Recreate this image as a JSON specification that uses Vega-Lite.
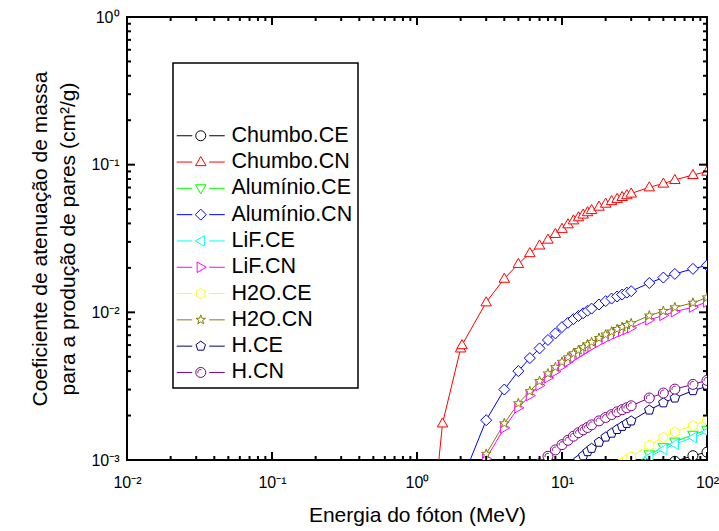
{
"$schema":"https://vega.github.io/schema/vega-lite/v6.json",
"width":580,"height":443,
"autosize":{"type":"none"},
"padding":{"left":127,"top":17,"right":12,"bottom":71},
"background":"white",
"config":{"view":{"stroke":"black","strokeWidth":2},"font":"Liberation Sans","axis":{"grid":false,"labelColor":"black","titleColor":"black","tickColor":"black"},"legend":{"strokeWidth":1.5}},
"data":{"values":[
{"s":"Chumbo.CE","E":30,"v":0.00072},{"s":"Chumbo.CE","E":40,"v":0.00082},{"s":"Chumbo.CE","E":50,"v":0.0009},{"s":"Chumbo.CE","E":60,"v":0.00098},{"s":"Chumbo.CE","E":80,"v":0.00107},{"s":"Chumbo.CE","E":100,"v":0.00113},
{"s":"Chumbo.CN","E":1.25,"v":0.0003},{"s":"Chumbo.CN","E":1.5,"v":0.00177},{"s":"Chumbo.CN","E":2,"v":0.0057},{"s":"Chumbo.CN","E":2.044,"v":0.006},{"s":"Chumbo.CN","E":3,"v":0.0117},{"s":"Chumbo.CN","E":4,"v":0.0169},{"s":"Chumbo.CN","E":5,"v":0.0213},{"s":"Chumbo.CN","E":6,"v":0.0252},{"s":"Chumbo.CN","E":7,"v":0.0284},{"s":"Chumbo.CN","E":8,"v":0.0311},{"s":"Chumbo.CN","E":9,"v":0.034},{"s":"Chumbo.CN","E":10,"v":0.0368},{"s":"Chumbo.CN","E":11,"v":0.0395},{"s":"Chumbo.CN","E":12,"v":0.042},{"s":"Chumbo.CN","E":13,"v":0.0441},{"s":"Chumbo.CN","E":14,"v":0.046},{"s":"Chumbo.CN","E":15,"v":0.0477},{"s":"Chumbo.CN","E":16,"v":0.0493},{"s":"Chumbo.CN","E":18,"v":0.052},{"s":"Chumbo.CN","E":20,"v":0.0545},{"s":"Chumbo.CN","E":22,"v":0.0567},{"s":"Chumbo.CN","E":24,"v":0.0587},{"s":"Chumbo.CN","E":26,"v":0.0605},{"s":"Chumbo.CN","E":28,"v":0.0622},{"s":"Chumbo.CN","E":30,"v":0.0638},{"s":"Chumbo.CN","E":40,"v":0.0703},{"s":"Chumbo.CN","E":50,"v":0.0745},{"s":"Chumbo.CN","E":60,"v":0.0788},{"s":"Chumbo.CN","E":80,"v":0.0852},{"s":"Chumbo.CN","E":100,"v":0.0897},
{"s":"Alumínio.CE","E":26,"v":0.00081},{"s":"Alumínio.CE","E":28,"v":0.00086},{"s":"Alumínio.CE","E":30,"v":0.0009},{"s":"Alumínio.CE","E":40,"v":0.00109},{"s":"Alumínio.CE","E":50,"v":0.00122},{"s":"Alumínio.CE","E":60,"v":0.00133},{"s":"Alumínio.CE","E":80,"v":0.00148},{"s":"Alumínio.CE","E":100,"v":0.0016},
{"s":"Alumínio.CN","E":2,"v":0.00068},{"s":"Alumínio.CN","E":2.044,"v":0.00073},{"s":"Alumínio.CN","E":3,"v":0.00186},{"s":"Alumínio.CN","E":4,"v":0.003},{"s":"Alumínio.CN","E":5,"v":0.004},{"s":"Alumínio.CN","E":6,"v":0.0049},{"s":"Alumínio.CN","E":7,"v":0.0057},{"s":"Alumínio.CN","E":8,"v":0.0065},{"s":"Alumínio.CN","E":9,"v":0.0072},{"s":"Alumínio.CN","E":10,"v":0.00795},{"s":"Alumínio.CN","E":11,"v":0.0085},{"s":"Alumínio.CN","E":12,"v":0.009},{"s":"Alumínio.CN","E":13,"v":0.00945},{"s":"Alumínio.CN","E":14,"v":0.00985},{"s":"Alumínio.CN","E":15,"v":0.01025},{"s":"Alumínio.CN","E":16,"v":0.0106},{"s":"Alumínio.CN","E":18,"v":0.0113},{"s":"Alumínio.CN","E":20,"v":0.0119},{"s":"Alumínio.CN","E":22,"v":0.0124},{"s":"Alumínio.CN","E":24,"v":0.0128},{"s":"Alumínio.CN","E":26,"v":0.0132},{"s":"Alumínio.CN","E":28,"v":0.0136},{"s":"Alumínio.CN","E":30,"v":0.0139},{"s":"Alumínio.CN","E":40,"v":0.0158},{"s":"Alumínio.CN","E":50,"v":0.0172},{"s":"Alumínio.CN","E":60,"v":0.0182},{"s":"Alumínio.CN","E":80,"v":0.0197},{"s":"Alumínio.CN","E":100,"v":0.0208},
{"s":"LiF.CE","E":26,"v":0.00079},{"s":"LiF.CE","E":28,"v":0.00083},{"s":"LiF.CE","E":30,"v":0.00087},{"s":"LiF.CE","E":40,"v":0.00105},{"s":"LiF.CE","E":50,"v":0.00118},{"s":"LiF.CE","E":60,"v":0.00128},{"s":"LiF.CE","E":80,"v":0.00142},{"s":"LiF.CE","E":100,"v":0.00155},
{"s":"LiF.CN","E":2.044,"v":0.00019},{"s":"LiF.CN","E":3,"v":0.00102},{"s":"LiF.CN","E":4,"v":0.00165},{"s":"LiF.CN","E":5,"v":0.00226},{"s":"LiF.CN","E":6,"v":0.00273},{"s":"LiF.CN","E":7,"v":0.0032},{"s":"LiF.CN","E":8,"v":0.0036},{"s":"LiF.CN","E":9,"v":0.00397},{"s":"LiF.CN","E":10,"v":0.00432},{"s":"LiF.CN","E":11,"v":0.00463},{"s":"LiF.CN","E":12,"v":0.00493},{"s":"LiF.CN","E":13,"v":0.00519},{"s":"LiF.CN","E":14,"v":0.00542},{"s":"LiF.CN","E":15,"v":0.00566},{"s":"LiF.CN","E":16,"v":0.00587},{"s":"LiF.CN","E":18,"v":0.00626},{"s":"LiF.CN","E":20,"v":0.00661},{"s":"LiF.CN","E":22,"v":0.00692},{"s":"LiF.CN","E":24,"v":0.0072},{"s":"LiF.CN","E":26,"v":0.00743},{"s":"LiF.CN","E":28,"v":0.00767},{"s":"LiF.CN","E":30,"v":0.00787},{"s":"LiF.CN","E":40,"v":0.00888},{"s":"LiF.CN","E":50,"v":0.00954},{"s":"LiF.CN","E":60,"v":0.0101},{"s":"LiF.CN","E":80,"v":0.01085},{"s":"LiF.CN","E":100,"v":0.01175},
{"s":"H2O.CE","E":20,"v":0.0008},{"s":"H2O.CE","E":22,"v":0.00086},{"s":"H2O.CE","E":24,"v":0.00091},{"s":"H2O.CE","E":26,"v":0.00096},{"s":"H2O.CE","E":28,"v":0.00101},{"s":"H2O.CE","E":30,"v":0.00105},{"s":"H2O.CE","E":40,"v":0.00126},{"s":"H2O.CE","E":50,"v":0.00142},{"s":"H2O.CE","E":60,"v":0.00155},{"s":"H2O.CE","E":80,"v":0.00171},{"s":"H2O.CE","E":100,"v":0.00187},
{"s":"H2O.CN","E":2.044,"v":0.0002},{"s":"H2O.CN","E":3,"v":0.0011},{"s":"H2O.CN","E":4,"v":0.00177},{"s":"H2O.CN","E":5,"v":0.00242},{"s":"H2O.CN","E":6,"v":0.00292},{"s":"H2O.CN","E":7,"v":0.00342},{"s":"H2O.CN","E":8,"v":0.00385},{"s":"H2O.CN","E":9,"v":0.00425},{"s":"H2O.CN","E":10,"v":0.00462},{"s":"H2O.CN","E":11,"v":0.00495},{"s":"H2O.CN","E":12,"v":0.00527},{"s":"H2O.CN","E":13,"v":0.00555},{"s":"H2O.CN","E":14,"v":0.0058},{"s":"H2O.CN","E":15,"v":0.00605},{"s":"H2O.CN","E":16,"v":0.00628},{"s":"H2O.CN","E":18,"v":0.0067},{"s":"H2O.CN","E":20,"v":0.00707},{"s":"H2O.CN","E":22,"v":0.0074},{"s":"H2O.CN","E":24,"v":0.0077},{"s":"H2O.CN","E":26,"v":0.00795},{"s":"H2O.CN","E":28,"v":0.0082},{"s":"H2O.CN","E":30,"v":0.00842},{"s":"H2O.CN","E":40,"v":0.0095},{"s":"H2O.CN","E":50,"v":0.0102},{"s":"H2O.CN","E":60,"v":0.0108},{"s":"H2O.CN","E":80,"v":0.0116},{"s":"H2O.CN","E":100,"v":0.0126},
{"s":"H.CE","E":10,"v":0.00072},{"s":"H.CE","E":11,"v":0.00082},{"s":"H.CE","E":12,"v":0.00091},{"s":"H.CE","E":13,"v":0.001},{"s":"H.CE","E":14,"v":0.00107},{"s":"H.CE","E":15,"v":0.00114},{"s":"H.CE","E":16,"v":0.0012},{"s":"H.CE","E":18,"v":0.00132},{"s":"H.CE","E":20,"v":0.00143},{"s":"H.CE","E":22,"v":0.00152},{"s":"H.CE","E":24,"v":0.00161},{"s":"H.CE","E":26,"v":0.00169},{"s":"H.CE","E":28,"v":0.00177},{"s":"H.CE","E":30,"v":0.00184},{"s":"H.CE","E":40,"v":0.00218},{"s":"H.CE","E":50,"v":0.00244},{"s":"H.CE","E":60,"v":0.00263},{"s":"H.CE","E":80,"v":0.00295},{"s":"H.CE","E":100,"v":0.00315},
{"s":"H.CN","E":6,"v":0.0008},{"s":"H.CN","E":7,"v":0.00094},{"s":"H.CN","E":8,"v":0.00106},{"s":"H.CN","E":9,"v":0.00117},{"s":"H.CN","E":10,"v":0.00127},{"s":"H.CN","E":11,"v":0.00136},{"s":"H.CN","E":12,"v":0.00145},{"s":"H.CN","E":13,"v":0.00153},{"s":"H.CN","E":14,"v":0.0016},{"s":"H.CN","E":15,"v":0.00166},{"s":"H.CN","E":16,"v":0.00173},{"s":"H.CN","E":18,"v":0.00184},{"s":"H.CN","E":20,"v":0.00194},{"s":"H.CN","E":22,"v":0.00203},{"s":"H.CN","E":24,"v":0.00212},{"s":"H.CN","E":26,"v":0.00219},{"s":"H.CN","E":28,"v":0.00226},{"s":"H.CN","E":30,"v":0.00233},{"s":"H.CN","E":40,"v":0.00263},{"s":"H.CN","E":50,"v":0.00284},{"s":"H.CN","E":60,"v":0.00302},{"s":"H.CN","E":80,"v":0.00325},{"s":"H.CN","E":100,"v":0.00346}
]},
"layer":[
{"mark":{"type":"line","strokeWidth":1,"clip":true},
 "encoding":{
  "x":{"field":"E","type":"quantitative","scale":{"type":"log","domain":[0.01,100],"nice":false},
   "axis":{"orient":"bottom","values":[0.01,0.1,1,10,100],"ticks":false,"domain":false,"labelFlush":false,"labelFontSize":16,"labelPadding":14,
    "labelExpr":"datum.value == 0.01 ? '10⁻²' : datum.value == 0.1 ? '10⁻¹' : datum.value == 1 ? '10⁰' : datum.value == 10 ? '10¹' : '10²'",
    "title":"Energia do fóton (MeV)","titleFontSize":21,"titleFontWeight":"normal","titlePadding":14}},
  "y":{"field":"v","type":"quantitative","scale":{"type":"log","domain":[0.001,1],"nice":false},
   "axis":{"orient":"left","values":[0.001,0.01,0.1,1],"ticks":false,"domain":false,"labelFlush":false,"labelFontSize":16,"labelPadding":8,
    "labelExpr":"datum.value == 0.001 ? '10⁻³' : datum.value == 0.01 ? '10⁻²' : datum.value == 0.1 ? '10⁻¹' : '10⁰'",
    "title":["Coeficiente de atenuação de massa","para a produção de pares (cm²/g)"],"titleFontSize":21,"titleFontWeight":"normal","titleLineHeight":28,"titlePadding":12}},
  "color":{"field":"s","type":"nominal","scale":{"domain":["Chumbo.CE","Chumbo.CN","Alumínio.CE","Alumínio.CN","LiF.CE","LiF.CN","H2O.CE","H2O.CN","H.CE","H.CN"],"range":["#000000","#ff0000","#00ff00","#0000ff","#00ffff","#ff00ff","#ffff00","#808000","#000080","#800080"]},"legend":null},
  "order":{"field":"E","type":"quantitative"}
 }},
{"mark":{"type":"point","filled":false,"fill":"white","size":100,"strokeWidth":1,"clip":true,"opacity":1},
 "encoding":{
  "x":{"field":"E","type":"quantitative","scale":{"type":"log","domain":[0.01,100],"nice":false},"axis":null},
  "y":{"field":"v","type":"quantitative","scale":{"type":"log","domain":[0.001,1],"nice":false},"axis":null},
  "color":{"field":"s","type":"nominal","scale":{"domain":["Chumbo.CE","Chumbo.CN","Alumínio.CE","Alumínio.CN","LiF.CE","LiF.CN","H2O.CE","H2O.CN","H.CE","H.CN"],"range":["#000000","#ff0000","#00ff00","#0000ff","#00ffff","#ff00ff","#ffff00","#808000","#000080","#800080"]},"legend":null},
  "shape":{"field":"s","type":"nominal","scale":{"domain":["Chumbo.CE","Chumbo.CN","Alumínio.CE","Alumínio.CN","LiF.CE","LiF.CN","H2O.CE","H2O.CN","H.CE","H.CN"],"range":[
   "M1,0A1,1,0,1,1,-1,0A1,1,0,1,1,1,0Z",
   "M0,-1.1L1.05,0.72L-1.05,0.72Z",
   "M0,1.1L1.05,-0.72L-1.05,-0.72Z",
   "M0,-1.1L1.1,0L0,1.1L-1.1,0Z",
   "M-1.1,0L0.72,-1.05L0.72,1.05Z",
   "M1.1,0L-0.72,-1.05L-0.72,1.05Z",
   "M0,-1L0.87,-0.5L0.87,0.5L0,1L-0.87,0.5L-0.87,-0.5Z",
   "M0,-1L0.235,-0.324L0.951,-0.309L0.38,0.124L0.588,0.809L0,0.4L-0.588,0.809L-0.38,0.124L-0.951,-0.309L-0.235,-0.324Z",
   "M0,-1L0.951,-0.309L0.588,0.809L-0.588,0.809L-0.951,-0.309Z",
   "M1,0A1,1,0,1,1,-1,0A1,1,0,1,1,1,0ZM-0.55,0.15A0.55,0.55,0,0,1,0.15,-0.55"]},"legend":null}
 }},
{"mark":{"type":"point","filled":false,"opacity":0,"size":100,"strokeWidth":1},
 "encoding":{
  "x":{"field":"E","type":"quantitative","scale":{"type":"log","domain":[0.01,100],"nice":false},"axis":null},
  "y":{"field":"v","type":"quantitative","scale":{"type":"log","domain":[0.001,1],"nice":false},"axis":null},
  "color":{"field":"s","type":"nominal","scale":{"domain":["Chumbo.CE","Chumbo.CN","Alumínio.CE","Alumínio.CN","LiF.CE","LiF.CN","H2O.CE","H2O.CN","H.CE","H.CN"],"range":["#000000","#ff0000","#00ff00","#0000ff","#00ffff","#ff00ff","#ffff00","#808000","#000080","#800080"]},
   "legend":{"orient":"none","legendX":46,"legendY":46,"title":" ","titleFontSize":21,"titlePadding":36,"strokeColor":"black","fillColor":"white","padding":5,"symbolSize":100,"symbolStrokeWidth":1,"symbolFillColor":"white","symbolOpacity":1,"symbolOffset":12,"labelOffset":20,"labelFontSize":21.5,"labelColor":"black","rowPadding":3.3}},
  "shape":{"field":"s","type":"nominal","scale":{"domain":["Chumbo.CE","Chumbo.CN","Alumínio.CE","Alumínio.CN","LiF.CE","LiF.CN","H2O.CE","H2O.CN","H.CE","H.CN"],"range":[
   "M-4.8,0H-1.7M1.7,0H4.8M1,0A1,1,0,1,1,-1,0A1,1,0,1,1,1,0Z",
   "M-4.8,0H-1.7M1.7,0H4.8M0,-1.1L1.05,0.72L-1.05,0.72Z",
   "M-4.8,0H-1.7M1.7,0H4.8M0,1.1L1.05,-0.72L-1.05,-0.72Z",
   "M-4.8,0H-1.7M1.7,0H4.8M0,-1.1L1.1,0L0,1.1L-1.1,0Z",
   "M-4.8,0H-1.7M1.7,0H4.8M-1.1,0L0.72,-1.05L0.72,1.05Z",
   "M-4.8,0H-1.7M1.7,0H4.8M1.1,0L-0.72,-1.05L-0.72,1.05Z",
   "M-4.8,0H-1.7M1.7,0H4.8M0,-1L0.87,-0.5L0.87,0.5L0,1L-0.87,0.5L-0.87,-0.5Z",
   "M-4.8,0H-1.7M1.7,0H4.8M0,-1L0.235,-0.324L0.951,-0.309L0.38,0.124L0.588,0.809L0,0.4L-0.588,0.809L-0.38,0.124L-0.951,-0.309L-0.235,-0.324Z",
   "M-4.8,0H-1.7M1.7,0H4.8M0,-1L0.951,-0.309L0.588,0.809L-0.588,0.809L-0.951,-0.309Z",
   "M-4.8,0H-1.7M1.7,0H4.8M1,0A1,1,0,1,1,-1,0A1,1,0,1,1,1,0ZM-0.55,0.15A0.55,0.55,0,0,1,0.15,-0.55"]},
   "legend":{"orient":"none","legendX":46,"legendY":46,"title":" ","titleFontSize":21,"titlePadding":36,"strokeColor":"black","fillColor":"white","padding":5,"symbolSize":100,"symbolStrokeWidth":1,"symbolFillColor":"white","symbolOpacity":1,"symbolOffset":12,"labelOffset":20,"labelFontSize":21.5,"labelColor":"black","rowPadding":3.3}}
 }},
{"data":{"values":[{"t":0.01},{"t":0.1},{"t":1},{"t":10},{"t":100}]},
 "mark":{"type":"rule","strokeWidth":2,"color":"black","y2Offset":-8},
 "encoding":{"x":{"field":"t","type":"quantitative","scale":{"type":"log","domain":[0.01,100],"nice":false},"axis":null},
  "y":{"datum":0.001,"type":"quantitative","scale":{"type":"log","domain":[0.001,1],"nice":false},"axis":null},"y2":{"datum":0.001}}},
{"data":{"values":[{"t":0.01},{"t":0.1},{"t":1},{"t":10},{"t":100}]},
 "mark":{"type":"rule","strokeWidth":2,"color":"black","y2Offset":8},
 "encoding":{"x":{"field":"t","type":"quantitative","scale":{"type":"log","domain":[0.01,100],"nice":false},"axis":null},
  "y":{"datum":1,"type":"quantitative","scale":{"type":"log","domain":[0.001,1],"nice":false},"axis":null},"y2":{"datum":1}}},
{"data":{"values":[{"t":0.02},{"t":0.03},{"t":0.04},{"t":0.05},{"t":0.06},{"t":0.07},{"t":0.08},{"t":0.09},{"t":0.2},{"t":0.3},{"t":0.4},{"t":0.5},{"t":0.6},{"t":0.7},{"t":0.8},{"t":0.9},{"t":2},{"t":3},{"t":4},{"t":5},{"t":6},{"t":7},{"t":8},{"t":9},{"t":20},{"t":30},{"t":40},{"t":50},{"t":60},{"t":70},{"t":80},{"t":90}]},
 "mark":{"type":"rule","strokeWidth":2,"color":"black","y2Offset":-4},
 "encoding":{"x":{"field":"t","type":"quantitative","scale":{"type":"log","domain":[0.01,100],"nice":false},"axis":null},
  "y":{"datum":0.001,"type":"quantitative","scale":{"type":"log","domain":[0.001,1],"nice":false},"axis":null},"y2":{"datum":0.001}}},
{"data":{"values":[{"t":0.02},{"t":0.03},{"t":0.04},{"t":0.05},{"t":0.06},{"t":0.07},{"t":0.08},{"t":0.09},{"t":0.2},{"t":0.3},{"t":0.4},{"t":0.5},{"t":0.6},{"t":0.7},{"t":0.8},{"t":0.9},{"t":2},{"t":3},{"t":4},{"t":5},{"t":6},{"t":7},{"t":8},{"t":9},{"t":20},{"t":30},{"t":40},{"t":50},{"t":60},{"t":70},{"t":80},{"t":90}]},
 "mark":{"type":"rule","strokeWidth":2,"color":"black","y2Offset":4},
 "encoding":{"x":{"field":"t","type":"quantitative","scale":{"type":"log","domain":[0.01,100],"nice":false},"axis":null},
  "y":{"datum":1,"type":"quantitative","scale":{"type":"log","domain":[0.001,1],"nice":false},"axis":null},"y2":{"datum":1}}},
{"data":{"values":[{"t":0.001},{"t":0.01},{"t":0.1},{"t":1}]},
 "mark":{"type":"rule","strokeWidth":2,"color":"black","x2Offset":8},
 "encoding":{"y":{"field":"t","type":"quantitative","scale":{"type":"log","domain":[0.001,1],"nice":false},"axis":null},
  "x":{"datum":0.01,"type":"quantitative","scale":{"type":"log","domain":[0.01,100],"nice":false},"axis":null},"x2":{"datum":0.01}}},
{"data":{"values":[{"t":0.001},{"t":0.01},{"t":0.1},{"t":1}]},
 "mark":{"type":"rule","strokeWidth":2,"color":"black","x2Offset":-8},
 "encoding":{"y":{"field":"t","type":"quantitative","scale":{"type":"log","domain":[0.001,1],"nice":false},"axis":null},
  "x":{"datum":100,"type":"quantitative","scale":{"type":"log","domain":[0.01,100],"nice":false},"axis":null},"x2":{"datum":100}}},
{"data":{"values":[{"t":0.002},{"t":0.003},{"t":0.004},{"t":0.005},{"t":0.006},{"t":0.007},{"t":0.008},{"t":0.009},{"t":0.02},{"t":0.03},{"t":0.04},{"t":0.05},{"t":0.06},{"t":0.07},{"t":0.08},{"t":0.09},{"t":0.2},{"t":0.3},{"t":0.4},{"t":0.5},{"t":0.6},{"t":0.7},{"t":0.8},{"t":0.9}]},
 "mark":{"type":"rule","strokeWidth":2,"color":"black","x2Offset":4},
 "encoding":{"y":{"field":"t","type":"quantitative","scale":{"type":"log","domain":[0.001,1],"nice":false},"axis":null},
  "x":{"datum":0.01,"type":"quantitative","scale":{"type":"log","domain":[0.01,100],"nice":false},"axis":null},"x2":{"datum":0.01}}},
{"data":{"values":[{"t":0.002},{"t":0.003},{"t":0.004},{"t":0.005},{"t":0.006},{"t":0.007},{"t":0.008},{"t":0.009},{"t":0.02},{"t":0.03},{"t":0.04},{"t":0.05},{"t":0.06},{"t":0.07},{"t":0.08},{"t":0.09},{"t":0.2},{"t":0.3},{"t":0.4},{"t":0.5},{"t":0.6},{"t":0.7},{"t":0.8},{"t":0.9}]},
 "mark":{"type":"rule","strokeWidth":2,"color":"black","x2Offset":-4},
 "encoding":{"y":{"field":"t","type":"quantitative","scale":{"type":"log","domain":[0.001,1],"nice":false},"axis":null},
  "x":{"datum":100,"type":"quantitative","scale":{"type":"log","domain":[0.01,100],"nice":false},"axis":null},"x2":{"datum":100}}}
],
"resolve":{"scale":{"color":"independent","shape":"independent"},"axis":{"x":"independent","y":"independent"},"legend":{"color":"independent","shape":"independent"}}
}
